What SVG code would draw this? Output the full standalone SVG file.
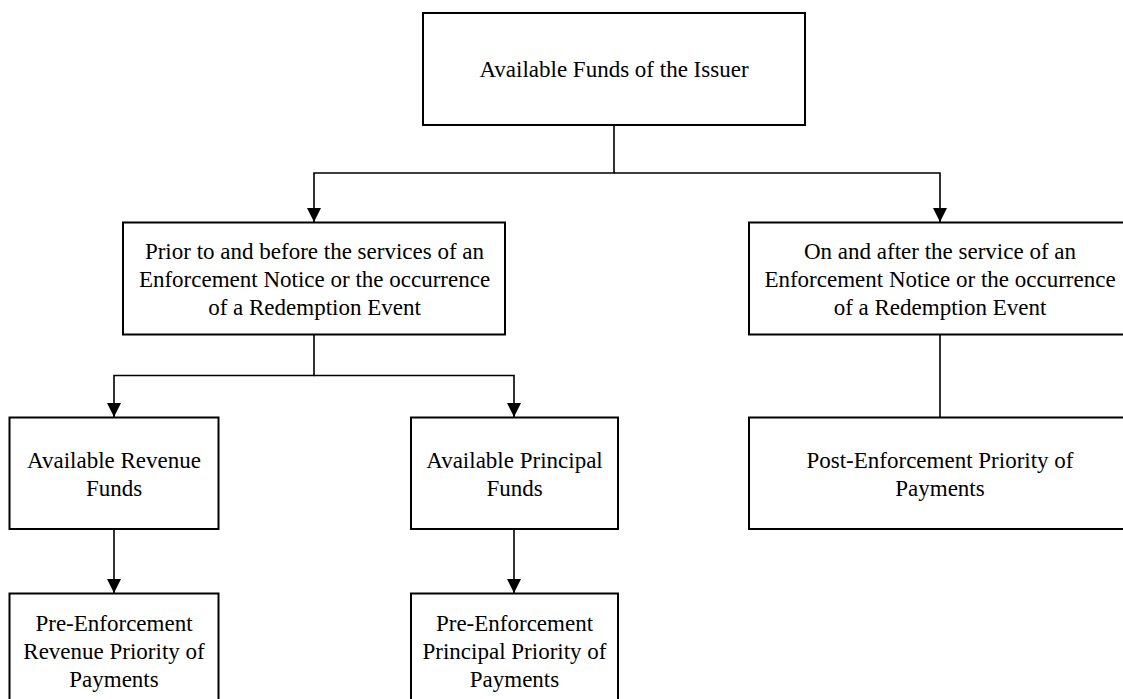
<svg xmlns="http://www.w3.org/2000/svg" width="1123" height="699" viewBox="0 0 1123 699">
<style>
.box{fill:#fff;stroke:#000;stroke-width:2}
.lbl{font-family:"Liberation Serif","Times New Roman",serif;font-size:23px;fill:#000;text-anchor:middle}
.con{fill:none;stroke:#000;stroke-width:1.6}
</style>
<defs>
<marker id="arr" markerUnits="userSpaceOnUse" markerWidth="14" markerHeight="14" viewBox="0 0 14 14" refX="14" refY="7" orient="auto">
<path d="M0,0 L14,7 L0,14 z" fill="#000"/>
</marker>
</defs>
<rect width="1123" height="699" fill="#fff"/>
<g id="connectors">
<path class="con" d="M614,125 V173 H314 V222" marker-end="url(#arr)"/>
<path class="con" d="M614,173 H940 V222" marker-end="url(#arr)"/>
<path class="con" d="M314,334 V375.5 H114 V417" marker-end="url(#arr)"/>
<path class="con" d="M314,375.5 H514 V417" marker-end="url(#arr)"/>
<path class="con" d="M940,334 V417"/>
<path class="con" d="M114,529 V593" marker-end="url(#arr)"/>
<path class="con" d="M514,529 V593" marker-end="url(#arr)"/>
</g>
<g id="n-top">
<rect class="box" x="423" y="13" width="382" height="112"/>
<text class="lbl" x="614" y="77">Available Funds of the Issuer</text>
</g>
<g id="n-prior">
<rect class="box" x="123" y="222.5" width="382" height="112"/>
<text class="lbl" x="314.5" y="259">Prior to and before the services of an</text>
<text class="lbl" x="314.5" y="287">Enforcement Notice or the occurrence</text>
<text class="lbl" x="314.5" y="314.5">of a Redemption Event</text>
</g>
<g id="n-after">
<rect class="box" x="749" y="222.5" width="382" height="112"/>
<text class="lbl" x="940" y="259">On and after the service of an</text>
<text class="lbl" x="940" y="287">Enforcement Notice or the occurrence</text>
<text class="lbl" x="940" y="314.5">of a Redemption Event</text>
</g>
<g id="n-revenue">
<rect class="box" x="9.5" y="417.5" width="209" height="111.5"/>
<text class="lbl" x="114" y="468">Available Revenue</text>
<text class="lbl" x="114" y="495.5">Funds</text>
</g>
<g id="n-principal">
<rect class="box" x="411" y="417.5" width="207" height="111.5"/>
<text class="lbl" x="514.5" y="468">Available Principal</text>
<text class="lbl" x="514.5" y="495.5">Funds</text>
</g>
<g id="n-post">
<rect class="box" x="749" y="417.5" width="382" height="111.5"/>
<text class="lbl" x="940" y="467.5">Post-Enforcement Priority of</text>
<text class="lbl" x="940" y="495.5">Payments</text>
</g>
<g id="n-pre-revenue">
<rect class="box" x="9.5" y="593.5" width="209" height="130"/>
<text class="lbl" x="114" y="630.5">Pre-Enforcement</text>
<text class="lbl" x="114" y="658.5">Revenue Priority of</text>
<text class="lbl" x="114" y="686.5">Payments</text>
</g>
<g id="n-pre-principal">
<rect class="box" x="411" y="593.5" width="207" height="130"/>
<text class="lbl" x="514.5" y="630.5">Pre-Enforcement</text>
<text class="lbl" x="514.5" y="658.5">Principal Priority of</text>
<text class="lbl" x="514.5" y="686.5">Payments</text>
</g>
</svg>
